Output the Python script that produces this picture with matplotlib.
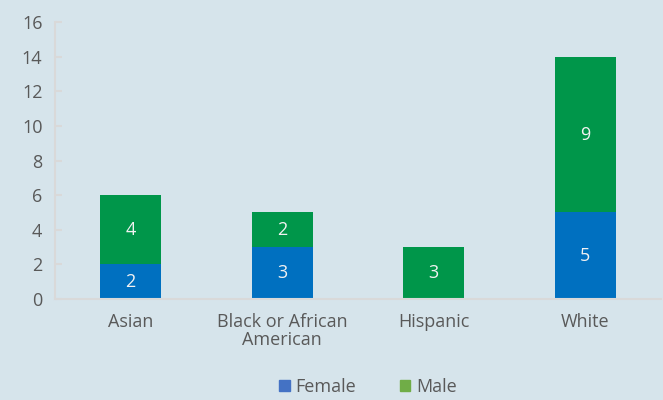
import matplotlib
matplotlib.use('Agg')
import matplotlib.pyplot as plt
from matplotlib.patches import Patch
import numpy as np

# data
categories = ['Asian', 'Black or African\nAmerican', 'Hispanic', 'White']
female = [2, 3, 0, 5]
male = [4, 2, 3, 9]
yticks = [0, 2, 4, 6, 8, 10, 12, 14, 16]

bg = '#d6e4eb'
blue = '#0070c0'
green = '#00964a'
txt = '#595959'

plt.rcParams['font.family'] = ['Open Sans', 'DejaVu Sans']

fig = plt.figure(figsize=(6.63, 4.0), dpi=100, facecolor=bg)
ax = fig.add_axes([55/663, 1 - 299/400, 606/663, 277/400], facecolor=bg)

x = np.arange(len(categories))
ax.bar(x, female, width=0.4, color=blue)
ax.bar(x, male, width=0.4, bottom=female, color=green)

for i in range(len(x)):
    if female[i] > 0:
        ax.text(x[i], female[i] / 2, str(female[i]), ha='center', va='center',
                color='#f2f2f2', fontsize=13)
    if male[i] > 0:
        ax.text(x[i], female[i] + male[i] / 2, str(male[i]), ha='center', va='center',
                color='#f2f2f2', fontsize=13)

ax.set_xlim(-0.5, len(x) - 0.5)
ax.set_ylim(0, 16)
ax.set_yticks(yticks)
ax.set_xticks(x)
ax.set_xticklabels(categories, linespacing=1.0)

for s in ['top', 'right']:
    ax.spines[s].set_visible(False)
for s in ['left', 'bottom']:
    ax.spines[s].set_color('#d9d9d9')
    ax.spines[s].set_linewidth(1.5)
ax.tick_params(axis='y', direction='in', length=5, width=1.5, color='#d9d9d9',
               labelcolor=txt, labelsize=13, pad=9)
ax.tick_params(axis='x', length=0, labelcolor=txt, labelsize=13, pad=10)

handles = [Patch(color='#4472c4', label='Female'), Patch(color='#70ad47', label='Male')]
fig.legend(handles=handles, loc='center', bbox_to_anchor=(0.555, 13/400),
           ncol=2, frameon=False, fontsize=13, labelcolor=txt,
           handlelength=0.6, handleheight=0.6, handletextpad=0.3, columnspacing=2.4)

fig.savefig('out.png', dpi=100, facecolor=bg)
